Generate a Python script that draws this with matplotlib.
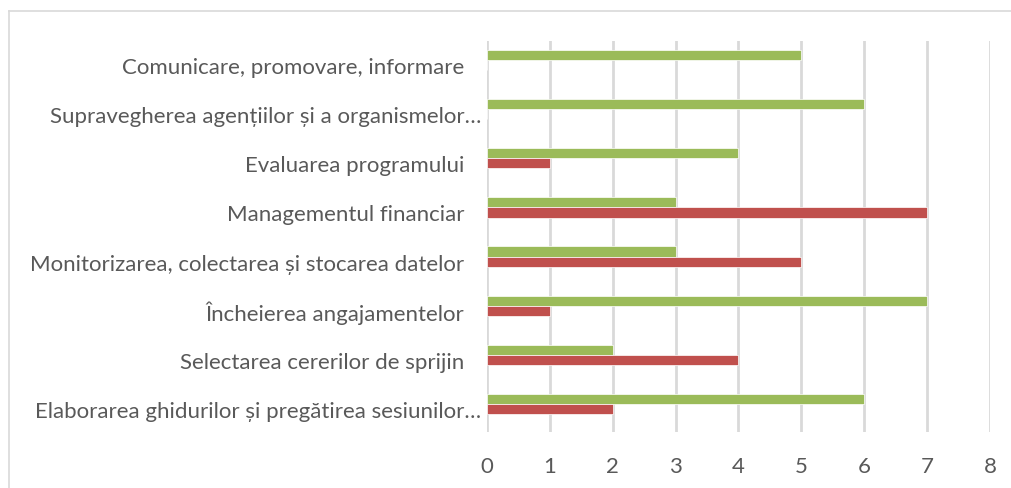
import matplotlib
matplotlib.use("Agg")
import matplotlib.pyplot as plt
import matplotlib.transforms as mtransforms
import numpy as np
from matplotlib.lines import Line2D

categories = [
    "Elaborarea ghidurilor și pregătirea sesiunilor…",
    "Selectarea cererilor de sprijin",
    "Încheierea angajamentelor",
    "Monitorizarea, colectarea și stocarea datelor",
    "Managementul financiar",
    "Evaluarea programului",
    "Supravegherea agențiilor și a organismelor…",
    "Comunicare, promovare, informare",
]
green_values = [6, 2, 7, 3, 3, 4, 6, 5]
red_values = [2, 4, 1, 5, 7, 1, 0, 0]
x_ticks = [0, 1, 2, 3, 4, 5, 6, 7, 8]

GREEN = "#9BBB59"
RED = "#C0504D"
TEXT = "#595959"

plt.rcParams['font.family'] = ['Lato', 'DejaVu Sans']

fig = plt.figure(figsize=(10.12, 4.89), dpi=100)
ax = fig.add_axes([487 / 1012, 1 - 433 / 489, (990 - 487) / 1012, (433 - 42) / 489])

y = np.arange(len(categories))
h = 0.205
ax.barh(y + h / 2, green_values, height=h, color=GREEN, edgecolor="white", linewidth=0.5, zorder=3)
ax.barh(y - h / 2, red_values, height=h, color=RED, edgecolor="white", linewidth=0.5, zorder=3)

ax.set_xlim(0, 8)
ax.set_ylim(-0.57, 7.387)
ax.set_xticks(x_ticks)
ax.set_xticklabels([str(t) for t in x_ticks])
ax.set_yticks(y)
ax.set_yticklabels(categories)
ax.tick_params(axis='y', length=0, pad=16.5, labelsize=16, labelcolor=TEXT)
ax.tick_params(axis='x', length=0, pad=17, labelsize=16, labelcolor=TEXT)
ax.grid(axis='x', color="#D9D9D9", linewidth=2, zorder=0)
for s in ax.spines.values():
    s.set_visible(False)

# labels sit slightly below the category centre; truncated ones closer to the axis
for lab in ax.get_yticklabels():
    dx = 17 if lab.get_text().endswith("…") else 0
    lab.set_transform(lab.get_transform() + mtransforms.ScaledTranslation(dx / 100, -5 / 100, fig.dpi_scale_trans))

# figure border (left and top visible, cropped elsewhere)
fig.add_artist(Line2D([9 / 1012, 9 / 1012], [0, 1 - 12 / 489], transform=fig.transFigure, color="#D9D9D9", linewidth=1.2))
fig.add_artist(Line2D([9 / 1012, 1], [1 - 12 / 489, 1 - 12 / 489], transform=fig.transFigure, color="#D9D9D9", linewidth=1.2))

fig.savefig("out.png", dpi=100, facecolor="white")
